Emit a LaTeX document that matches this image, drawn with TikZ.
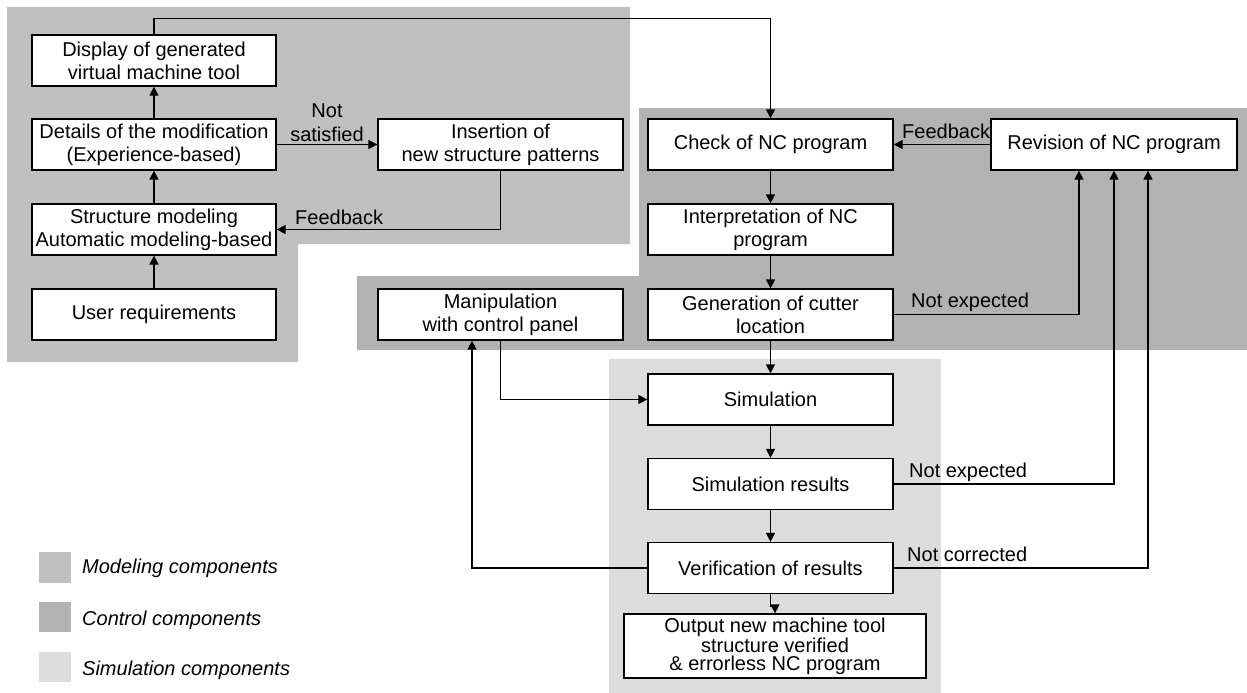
\documentclass[tikz,border=0pt]{standalone}
\usepackage{fontspec}
\setmainfont{Liberation Sans}
\usetikzlibrary{arrows.meta}
\definecolor{modelgray}{RGB}{192,192,192}
\definecolor{ctrlgray}{RGB}{178,178,178}
\definecolor{simgray}{RGB}{220,220,220}
\begin{document}
\begin{tikzpicture}[x=1pt,y=-1pt,
  every node/.style={inner sep=0pt},
  box/.style={draw, fill=white, line width=1.3pt, minimum width=244pt, minimum height=51pt,
    align=center, font=\fontsize{20}{23}\selectfont},
  lbl/.style={anchor=base west, font=\fontsize{20}{23}\selectfont},
  arr/.style={line width=1.3pt, -{Triangle[length=9pt,width=9pt]}},
  legtxt/.style={anchor=base west, font=\fontsize{20}{23}\selectfont\itshape}]
\useasboundingbox (0,0) rectangle (1247,693);

% group backgrounds
\fill[modelgray] (7,7) -- (630,7) -- (630,244) -- (298,244) -- (298,362) -- (7,362) -- cycle;
\fill[ctrlgray] (639,108) -- (1247,108) -- (1247,350) -- (357,350) -- (357,276) -- (639,276) -- cycle;
\fill[simgray] (609,359) rectangle (941,693);

% modeling steps
\node[box] (disp)   at (154,60.5)  {Display of generated\\virtual machine tool};
\node[box] (det)    at (154,144.5) {Details of the modification\\(Experience-based)};
\node[box] (struct) at (154,229.5) {Structure modeling\\Automatic modeling-based};
\node[box] (user)   at (154,314.5) {User requirements};
\node[box, minimum width=245pt] (ins) at (500.5,144.5) {Insertion of\\new structure patterns};

% control steps
\node[box, minimum width=245pt] (manip)  at (500.5,314.5) {Manipulation\\with control panel};
\node[box, minimum width=245pt] (check)  at (770.5,144.5) {Check of NC program};
\node[box, minimum width=246pt] (rev)    at (1114,144.5)  {Revision of NC program};
\node[box, minimum width=245pt] (interp) at (770.5,229.5) {Interpretation of NC\\program};
\node[box, minimum width=245pt] (gen)    at (770.5,314.5) {Generation of cutter\\location};

% simulation steps
\node[box, minimum width=245pt] (sim)    at (770.5,399.5) {Simulation};
\node[box, minimum width=245pt] (simres) at (770.5,484)   {Simulation results};
\node[box, minimum width=245pt] (verif)  at (770.5,568)   {Verification of results};
\node[box, minimum width=302pt, minimum height=64pt, font=\fontsize{20}{18}\selectfont]
  (out) at (775,646) {Output new machine tool\\structure verified\\\& errorless NC program};

% modeling flow
\draw[arr] (user) -- (struct);
\draw[arr] (struct) -- (det);
\draw[arr] (det) -- (disp);
\draw[arr] (det) -- (ins);
\node[anchor=base, align=center, font=\fontsize{20}{24}\selectfont] (nsat) at (327,141) {Not\\satisfied};
\draw[arr] (ins.south) |- (struct.east);
\node[lbl] (fb1) at (295,224) {Feedback};
\draw[arr] (disp.north) -- ++(0,-16) -| (check.north);

% control flow
\draw[arr] (rev) -- (check);
\node[lbl] (fb2) at (902,138) {Feedback};
\draw[arr] (check) -- (interp);
\draw[arr] (interp) -- (gen);
\draw[arr] (gen.east) -| ([xshift=-35pt]rev.south);
\node[lbl] (ne1) at (911,307) {Not expected};
\draw[arr] (gen) -- (sim);

% simulation flow
\draw[arr] (manip.south) |- (sim.west);
\draw[arr] (sim) -- (simres);
\draw[arr] (simres) -- (verif);
\draw[arr] (simres.east) -| (rev.south);
\node[lbl] (ne2) at (909,477) {Not expected};
\draw[arr] (verif.east) -| ([xshift=34pt]rev.south);
\node[lbl] (nc) at (907,561) {Not corrected};
\draw[arr] (verif.west) -| ([xshift=-28.5pt]manip.south);
\draw[arr] (verif.south) -- ++(0,12) -| (out.north);

% legend
\fill[modelgray] (39,552) rectangle (71,583);
\node[legtxt] (l1) at (82,573) {Modeling components};
\fill[ctrlgray] (39,602) rectangle (71,632);
\node[legtxt] (l2) at (82,625) {Control components};
\fill[simgray] (39,652) rectangle (71,682);
\node[legtxt] (l3) at (82,675) {Simulation components};
\end{tikzpicture}
\end{document}
